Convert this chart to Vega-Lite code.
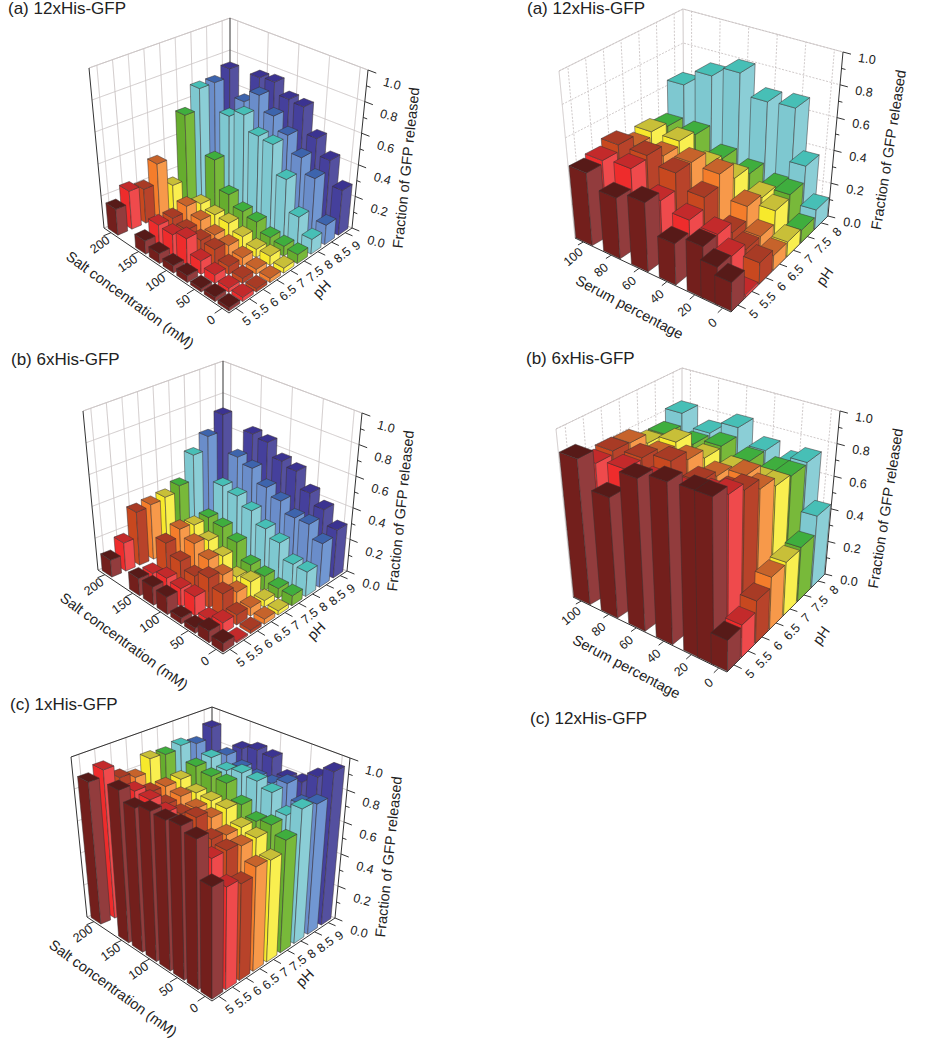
{"$schema":"https://vega.github.io/schema/vega-lite/v6.json","width":926,"height":1050,"padding":0,"autosize":{"type":"fit","contains":"padding"},"background":"white","view":{"stroke":null},
"params":[
{"name":"cam","value":{
"LA":{"f":[229,313],"r":[352,228],"l":[104,228],"b":[230,178],"F":[229,140],"R":[368,70],"L":[89,68],"B":[230,18],"tt":[-81,-59],"top":"g"},
"LB":{"f":[223,654],"r":[347,571],"l":[98,570],"b":[223,520],"F":[223,481],"R":[362,413],"L":[83,411],"B":[223,361],"tt":[-72,-51],"top":"g"},
"LC":{"f":[212,1001],"r":[335,918],"l":[87,917],"b":[212,867],"F":[212,828],"R":[350,758],"L":[71,757],"B":[212,707],"tt":[-61,-52],"top":"e"},
"RA":{"f":[731,312],"r":[828,216],"l":[575,238],"b":[684,179],"F":[731,132],"R":[843,52],"L":[559,71],"B":[683,9],"tt":[-32,-62],"top":"g"},
"RB":{"f":[727,672],"r":[825,574],"l":[573,597],"b":[682,538],"F":[727,490],"R":[840,411],"L":[556,429],"B":[682,368],"tt":[-30,-70],"top":"g"},
"RC":{"f":[0,0],"r":[0,0],"l":[0,0],"b":[0,0],"F":[0,0],"R":[0,0],"L":[530,719],"B":[0,0],"tt":[0,0],"top":"g"}}},
{"name":"lay","value":{
"L":{"u0":4.75,"us":4.5,"v0":-12.5,"vs":225,"du":0.037,"dv":0.037,"g0":1.22,"g1":0.34,"tk":0.06,"side":"e","dash":"s","pL":[11,13,-38],"sL":[-11,12,-35],"zL":[24,14,15],"pT":[32,19,-45],"sT":[-37,30,36],"zT":[47,19,-84]},
"R":{"u0":4.75,"us":3.5,"v0":-6,"vs":112,"du":0.065,"dv":0.053,"g0":1,"g1":0,"tk":0.05,"side":"g","dash":"d","pL":[16,9,-45],"sL":[-10,15,-40],"zL":[24,7,8],"pT":[46,13,-55],"sT":[-24,33,28],"zT":[54,16,-81]}}}
],
"data":{"values":[
{"panel":"LA","kind":"title","text":"(a) 12xHis-GFP"},{"panel":"LB","kind":"title","text":"(b) 6xHis-GFP"},{"panel":"LC","kind":"title","text":"(c) 1xHis-GFP"},{"panel":"RA","kind":"title","text":"(a) 12xHis-GFP"},{"panel":"RB","kind":"title","text":"(b) 6xHis-GFP"},{"panel":"RC","kind":"title","text":"(c) 12xHis-GFP"},
{"panel":"LA","kind":"pHTitle","text":"pH"},{"panel":"LB","kind":"pHTitle","text":"pH"},{"panel":"LC","kind":"pHTitle","text":"pH"},{"panel":"RA","kind":"pHTitle","text":"pH"},{"panel":"RB","kind":"pHTitle","text":"pH"},
{"panel":"LA","kind":"levelTitle","text":"Salt concentration (mM)"},{"panel":"LB","kind":"levelTitle","text":"Salt concentration (mM)"},{"panel":"LC","kind":"levelTitle","text":"Salt concentration (mM)"},{"panel":"RA","kind":"levelTitle","text":"Serum percentage"},{"panel":"RB","kind":"levelTitle","text":"Serum percentage"},
{"panel":"LA","kind":"valueTitle","text":"Fraction of GFP released"},{"panel":"LB","kind":"valueTitle","text":"Fraction of GFP released"},{"panel":"LC","kind":"valueTitle","text":"Fraction of GFP released"},{"panel":"RA","kind":"valueTitle","text":"Fraction of GFP released"},{"panel":"RB","kind":"valueTitle","text":"Fraction of GFP released"},
{"panel":"LA","kind":"frame"},{"panel":"LB","kind":"frame"},{"panel":"LC","kind":"frame"},{"panel":"RA","kind":"frame"},{"panel":"RB","kind":"frame"},
{"panel":"LA","kind":"pH","pH":5},{"panel":"LA","kind":"pH","pH":5.5},{"panel":"LA","kind":"pH","pH":6},{"panel":"LA","kind":"pH","pH":6.5},{"panel":"LA","kind":"pH","pH":7},{"panel":"LA","kind":"pH","pH":7.5},{"panel":"LA","kind":"pH","pH":8},{"panel":"LA","kind":"pH","pH":8.5},{"panel":"LA","kind":"pH","pH":9},
{"panel":"LB","kind":"pH","pH":5},{"panel":"LB","kind":"pH","pH":5.5},{"panel":"LB","kind":"pH","pH":6},{"panel":"LB","kind":"pH","pH":6.5},{"panel":"LB","kind":"pH","pH":7},{"panel":"LB","kind":"pH","pH":7.5},{"panel":"LB","kind":"pH","pH":8},{"panel":"LB","kind":"pH","pH":8.5},{"panel":"LB","kind":"pH","pH":9},
{"panel":"LC","kind":"pH","pH":5},{"panel":"LC","kind":"pH","pH":5.5},{"panel":"LC","kind":"pH","pH":6},{"panel":"LC","kind":"pH","pH":6.5},{"panel":"LC","kind":"pH","pH":7},{"panel":"LC","kind":"pH","pH":7.5},{"panel":"LC","kind":"pH","pH":8},{"panel":"LC","kind":"pH","pH":8.5},{"panel":"LC","kind":"pH","pH":9},
{"panel":"RA","kind":"pH","pH":5},{"panel":"RA","kind":"pH","pH":5.5},{"panel":"RA","kind":"pH","pH":6},{"panel":"RA","kind":"pH","pH":6.5},{"panel":"RA","kind":"pH","pH":7},{"panel":"RA","kind":"pH","pH":7.5},{"panel":"RA","kind":"pH","pH":8},
{"panel":"RB","kind":"pH","pH":5},{"panel":"RB","kind":"pH","pH":5.5},{"panel":"RB","kind":"pH","pH":6},{"panel":"RB","kind":"pH","pH":6.5},{"panel":"RB","kind":"pH","pH":7},{"panel":"RB","kind":"pH","pH":7.5},{"panel":"RB","kind":"pH","pH":8},
{"panel":"LA","kind":"level","level":0},{"panel":"LA","kind":"level","level":50},{"panel":"LA","kind":"level","level":100},{"panel":"LA","kind":"level","level":150},{"panel":"LA","kind":"level","level":200},
{"panel":"LB","kind":"level","level":0},{"panel":"LB","kind":"level","level":50},{"panel":"LB","kind":"level","level":100},{"panel":"LB","kind":"level","level":150},{"panel":"LB","kind":"level","level":200},
{"panel":"LC","kind":"level","level":0},{"panel":"LC","kind":"level","level":50},{"panel":"LC","kind":"level","level":100},{"panel":"LC","kind":"level","level":150},{"panel":"LC","kind":"level","level":200},
{"panel":"RA","kind":"level","level":0},{"panel":"RA","kind":"level","level":20},{"panel":"RA","kind":"level","level":40},{"panel":"RA","kind":"level","level":60},{"panel":"RA","kind":"level","level":80},{"panel":"RA","kind":"level","level":100},
{"panel":"RB","kind":"level","level":0},{"panel":"RB","kind":"level","level":20},{"panel":"RB","kind":"level","level":40},{"panel":"RB","kind":"level","level":60},{"panel":"RB","kind":"level","level":80},{"panel":"RB","kind":"level","level":100},
{"panel":"LA","kind":"value","fraction":0},{"panel":"LA","kind":"value","fraction":0.2},{"panel":"LA","kind":"value","fraction":0.4},{"panel":"LA","kind":"value","fraction":0.6},{"panel":"LA","kind":"value","fraction":0.8},{"panel":"LA","kind":"value","fraction":1},
{"panel":"LB","kind":"value","fraction":0},{"panel":"LB","kind":"value","fraction":0.2},{"panel":"LB","kind":"value","fraction":0.4},{"panel":"LB","kind":"value","fraction":0.6},{"panel":"LB","kind":"value","fraction":0.8},{"panel":"LB","kind":"value","fraction":1},
{"panel":"LC","kind":"value","fraction":0},{"panel":"LC","kind":"value","fraction":0.2},{"panel":"LC","kind":"value","fraction":0.4},{"panel":"LC","kind":"value","fraction":0.6},{"panel":"LC","kind":"value","fraction":0.8},{"panel":"LC","kind":"value","fraction":1},
{"panel":"RA","kind":"value","fraction":0},{"panel":"RA","kind":"value","fraction":0.2},{"panel":"RA","kind":"value","fraction":0.4},{"panel":"RA","kind":"value","fraction":0.6},{"panel":"RA","kind":"value","fraction":0.8},{"panel":"RA","kind":"value","fraction":1},
{"panel":"RB","kind":"value","fraction":0},{"panel":"RB","kind":"value","fraction":0.2},{"panel":"RB","kind":"value","fraction":0.4},{"panel":"RB","kind":"value","fraction":0.6},{"panel":"RB","kind":"value","fraction":0.8},{"panel":"RB","kind":"value","fraction":1},
{"panel":"LA","kind":"minor","fraction":0.1},{"panel":"LA","kind":"minor","fraction":0.3},{"panel":"LA","kind":"minor","fraction":0.5},{"panel":"LA","kind":"minor","fraction":0.7},{"panel":"LA","kind":"minor","fraction":0.9},
{"panel":"LB","kind":"minor","fraction":0.1},{"panel":"LB","kind":"minor","fraction":0.3},{"panel":"LB","kind":"minor","fraction":0.5},{"panel":"LB","kind":"minor","fraction":0.7},{"panel":"LB","kind":"minor","fraction":0.9},
{"panel":"LC","kind":"minor","fraction":0.1},{"panel":"LC","kind":"minor","fraction":0.3},{"panel":"LC","kind":"minor","fraction":0.5},{"panel":"LC","kind":"minor","fraction":0.7},{"panel":"LC","kind":"minor","fraction":0.9},
{"panel":"RA","kind":"minor","fraction":0.1},{"panel":"RA","kind":"minor","fraction":0.3},{"panel":"RA","kind":"minor","fraction":0.5},{"panel":"RA","kind":"minor","fraction":0.7},{"panel":"RA","kind":"minor","fraction":0.9},
{"panel":"RB","kind":"minor","fraction":0.1},{"panel":"RB","kind":"minor","fraction":0.3},{"panel":"RB","kind":"minor","fraction":0.5},{"panel":"RB","kind":"minor","fraction":0.7},{"panel":"RB","kind":"minor","fraction":0.9},

{"panel":"LA","pH":9,"level":200,"fraction":0.74},{"panel":"LA","pH":8.5,"level":200,"fraction":0.69},{"panel":"LA","pH":8,"level":200,"fraction":0.69},{"panel":"LA","pH":7.5,"level":200,"fraction":0.56},{"panel":"LA","pH":7,"level":200,"fraction":0.16},{"panel":"LA","pH":6.5,"level":200,"fraction":0.33},{"panel":"LA","pH":6,"level":200,"fraction":0.21},{"panel":"LA","pH":5.5,"level":200,"fraction":0.235},{"panel":"LA","pH":5,"level":200,"fraction":0.16},
{"panel":"LA","pH":9,"level":150,"fraction":0.76},{"panel":"LA","pH":8.5,"level":150,"fraction":0.65},{"panel":"LA","pH":8,"level":150,"fraction":0.6},{"panel":"LA","pH":7.5,"level":150,"fraction":0.37},{"panel":"LA","pH":7,"level":150,"fraction":0.14},{"panel":"LA","pH":6.5,"level":150,"fraction":0.167},{"panel":"LA","pH":6,"level":150,"fraction":0.135},{"panel":"LA","pH":5.5,"level":150,"fraction":0.135},{"panel":"LA","pH":5,"level":150,"fraction":0.08},
{"panel":"LA","pH":9,"level":125,"fraction":0.77},{"panel":"LA","pH":8.5,"level":125,"fraction":0.73},{"panel":"LA","pH":8,"level":125,"fraction":0.65},{"panel":"LA","pH":7.5,"level":125,"fraction":0.2},{"panel":"LA","pH":7,"level":125,"fraction":0.12},{"panel":"LA","pH":6.5,"level":125,"fraction":0.13},{"panel":"LA","pH":6,"level":125,"fraction":0.115},{"panel":"LA","pH":5.5,"level":125,"fraction":0.13},{"panel":"LA","pH":5,"level":125,"fraction":0.06},
{"panel":"LA","pH":9,"level":100,"fraction":0.7},{"panel":"LA","pH":8.5,"level":100,"fraction":0.64},{"panel":"LA","pH":8,"level":100,"fraction":0.56},{"panel":"LA","pH":7.5,"level":100,"fraction":0.14},{"panel":"LA","pH":7,"level":100,"fraction":0.115},{"panel":"LA","pH":6.5,"level":100,"fraction":0.09},{"panel":"LA","pH":6,"level":100,"fraction":0.104},{"panel":"LA","pH":5.5,"level":100,"fraction":0.16},{"panel":"LA","pH":5,"level":100,"fraction":0.044},
{"panel":"LA","pH":9,"level":75,"fraction":0.69},{"panel":"LA","pH":8.5,"level":75,"fraction":0.56},{"panel":"LA","pH":8,"level":75,"fraction":0.55},{"panel":"LA","pH":7.5,"level":75,"fraction":0.12},{"panel":"LA","pH":7,"level":75,"fraction":0.08},{"panel":"LA","pH":6.5,"level":75,"fraction":0.075},{"panel":"LA","pH":6,"level":75,"fraction":0.1},{"panel":"LA","pH":5.5,"level":75,"fraction":0.08},{"panel":"LA","pH":5,"level":75,"fraction":0.04},
{"panel":"LA","pH":9,"level":50,"fraction":0.53},{"panel":"LA","pH":8.5,"level":50,"fraction":0.46},{"panel":"LA","pH":8,"level":50,"fraction":0.375},{"panel":"LA","pH":7.5,"level":50,"fraction":0.07},{"panel":"LA","pH":7,"level":50,"fraction":0.05},{"panel":"LA","pH":6.5,"level":50,"fraction":0.05},{"panel":"LA","pH":6,"level":50,"fraction":0.05},{"panel":"LA","pH":5.5,"level":50,"fraction":0.05},{"panel":"LA","pH":5,"level":50,"fraction":0.02},
{"panel":"LA","pH":9,"level":25,"fraction":0.43},{"panel":"LA","pH":8.5,"level":25,"fraction":0.37},{"panel":"LA","pH":8,"level":25,"fraction":0.185},{"panel":"LA","pH":7.5,"level":25,"fraction":0.06},{"panel":"LA","pH":7,"level":25,"fraction":0.055},{"panel":"LA","pH":6.5,"level":25,"fraction":0.03},{"panel":"LA","pH":6,"level":25,"fraction":0.03},{"panel":"LA","pH":5.5,"level":25,"fraction":0.025},{"panel":"LA","pH":5,"level":25,"fraction":0.025},
{"panel":"LA","pH":9,"level":0,"fraction":0.28},{"panel":"LA","pH":8.5,"level":0,"fraction":0.12},{"panel":"LA","pH":8,"level":0,"fraction":0.09},{"panel":"LA","pH":7.5,"level":0,"fraction":0.055},{"panel":"LA","pH":7,"level":0,"fraction":0.03},{"panel":"LA","pH":6.5,"level":0,"fraction":0.025},{"panel":"LA","pH":6,"level":0,"fraction":0.02},{"panel":"LA","pH":5.5,"level":0,"fraction":0.025},{"panel":"LA","pH":5,"level":0,"fraction":0.02},

{"panel":"LB","pH":9,"level":200,"fraction":0.72},{"panel":"LB","pH":8.5,"level":200,"fraction":0.62},{"panel":"LB","pH":8,"level":200,"fraction":0.54},{"panel":"LB","pH":7.5,"level":200,"fraction":0.385},{"panel":"LB","pH":7,"level":200,"fraction":0.35},{"panel":"LB","pH":6.5,"level":200,"fraction":0.34},{"panel":"LB","pH":6,"level":200,"fraction":0.33},{"panel":"LB","pH":5.5,"level":200,"fraction":0.175},{"panel":"LB","pH":5,"level":200,"fraction":0.105},
{"panel":"LB","pH":9,"level":150,"fraction":0.675},{"panel":"LB","pH":8.5,"level":150,"fraction":0.57},{"panel":"LB","pH":8,"level":150,"fraction":0.43},{"panel":"LB","pH":7.5,"level":150,"fraction":0.275},{"panel":"LB","pH":7,"level":150,"fraction":0.27},{"panel":"LB","pH":6.5,"level":150,"fraction":0.285},{"panel":"LB","pH":6,"level":150,"fraction":0.24},{"panel":"LB","pH":5.5,"level":150,"fraction":0.095},{"panel":"LB","pH":5,"level":150,"fraction":0.105},
{"panel":"LB","pH":9,"level":125,"fraction":0.66},{"panel":"LB","pH":8.5,"level":125,"fraction":0.54},{"panel":"LB","pH":8,"level":125,"fraction":0.41},{"panel":"LB","pH":7.5,"level":125,"fraction":0.26},{"panel":"LB","pH":7,"level":125,"fraction":0.22},{"panel":"LB","pH":6.5,"level":125,"fraction":0.245},{"panel":"LB","pH":6,"level":125,"fraction":0.18},{"panel":"LB","pH":5.5,"level":125,"fraction":0.12},{"panel":"LB","pH":5,"level":125,"fraction":0.11},
{"panel":"LB","pH":9,"level":100,"fraction":0.58},{"panel":"LB","pH":8.5,"level":100,"fraction":0.46},{"panel":"LB","pH":8,"level":100,"fraction":0.36},{"panel":"LB","pH":7.5,"level":100,"fraction":0.21},{"panel":"LB","pH":7,"level":100,"fraction":0.17},{"panel":"LB","pH":6.5,"level":100,"fraction":0.195},{"panel":"LB","pH":6,"level":100,"fraction":0.14},{"panel":"LB","pH":5.5,"level":100,"fraction":0.11},{"panel":"LB","pH":5,"level":100,"fraction":0.105},
{"panel":"LB","pH":9,"level":75,"fraction":0.555},{"panel":"LB","pH":8.5,"level":75,"fraction":0.415},{"panel":"LB","pH":8,"level":75,"fraction":0.29},{"panel":"LB","pH":7.5,"level":75,"fraction":0.115},{"panel":"LB","pH":7,"level":75,"fraction":0.09},{"panel":"LB","pH":6.5,"level":75,"fraction":0.15},{"panel":"LB","pH":6,"level":75,"fraction":0.18},{"panel":"LB","pH":5.5,"level":75,"fraction":0.115},{"panel":"LB","pH":5,"level":75,"fraction":0.035},
{"panel":"LB","pH":9,"level":50,"fraction":0.455},{"panel":"LB","pH":8.5,"level":50,"fraction":0.35},{"panel":"LB","pH":8,"level":50,"fraction":0.245},{"panel":"LB","pH":7.5,"level":50,"fraction":0.09},{"panel":"LB","pH":7,"level":50,"fraction":0.107},{"panel":"LB","pH":6.5,"level":50,"fraction":0.095},{"panel":"LB","pH":6,"level":50,"fraction":0.135},{"panel":"LB","pH":5.5,"level":50,"fraction":0.03},{"panel":"LB","pH":5,"level":50,"fraction":0.03},
{"panel":"LB","pH":9,"level":25,"fraction":0.39},{"panel":"LB","pH":8.5,"level":25,"fraction":0.35},{"panel":"LB","pH":8,"level":25,"fraction":0.155},{"panel":"LB","pH":7.5,"level":25,"fraction":0.06},{"panel":"LB","pH":7,"level":25,"fraction":0.04},{"panel":"LB","pH":6.5,"level":25,"fraction":0.05},{"panel":"LB","pH":6,"level":25,"fraction":0.06},{"panel":"LB","pH":5.5,"level":25,"fraction":0.065},{"panel":"LB","pH":5,"level":25,"fraction":0.067},
{"panel":"LB","pH":9,"level":0,"fraction":0.3},{"panel":"LB","pH":8.5,"level":0,"fraction":0.27},{"panel":"LB","pH":8,"level":0,"fraction":0.15},{"panel":"LB","pH":7.5,"level":0,"fraction":0.06},{"panel":"LB","pH":7,"level":0,"fraction":0.025},{"panel":"LB","pH":6.5,"level":0,"fraction":0.03},{"panel":"LB","pH":6,"level":0,"fraction":0.02},{"panel":"LB","pH":5.5,"level":0,"fraction":0.01},{"panel":"LB","pH":5,"level":0,"fraction":0.05},

{"panel":"LC","pH":9,"level":200,"fraction":0.93},{"panel":"LC","pH":8.5,"level":200,"fraction":0.865},{"panel":"LC","pH":8,"level":200,"fraction":0.89},{"panel":"LC","pH":7.5,"level":200,"fraction":0.87},{"panel":"LC","pH":7,"level":200,"fraction":0.88},{"panel":"LC","pH":6.5,"level":200,"fraction":0.8},{"panel":"LC","pH":6,"level":200,"fraction":0.835},{"panel":"LC","pH":5.5,"level":200,"fraction":0.92},{"panel":"LC","pH":5,"level":200,"fraction":0.88},
{"panel":"LC","pH":9,"level":150,"fraction":0.87},{"panel":"LC","pH":8.5,"level":150,"fraction":0.87},{"panel":"LC","pH":8,"level":150,"fraction":0.895},{"panel":"LC","pH":7.5,"level":150,"fraction":0.88},{"panel":"LC","pH":7,"level":150,"fraction":0.84},{"panel":"LC","pH":6.5,"level":150,"fraction":0.835},{"panel":"LC","pH":6,"level":150,"fraction":0.84},{"panel":"LC","pH":5.5,"level":150,"fraction":0.885},{"panel":"LC","pH":5,"level":150,"fraction":0.93},
{"panel":"LC","pH":9,"level":125,"fraction":0.9},{"panel":"LC","pH":8.5,"level":125,"fraction":0.83},{"panel":"LC","pH":8,"level":125,"fraction":0.855},{"panel":"LC","pH":7.5,"level":125,"fraction":0.86},{"panel":"LC","pH":7,"level":125,"fraction":0.8},{"panel":"LC","pH":6.5,"level":125,"fraction":0.82},{"panel":"LC","pH":6,"level":125,"fraction":0.81},{"panel":"LC","pH":5.5,"level":125,"fraction":0.88},{"panel":"LC","pH":5,"level":125,"fraction":0.87},
{"panel":"LC","pH":9,"level":100,"fraction":0.89},{"panel":"LC","pH":8.5,"level":100,"fraction":0.81},{"panel":"LC","pH":8,"level":100,"fraction":0.88},{"panel":"LC","pH":7.5,"level":100,"fraction":0.86},{"panel":"LC","pH":7,"level":100,"fraction":0.795},{"panel":"LC","pH":6.5,"level":100,"fraction":0.79},{"panel":"LC","pH":6,"level":100,"fraction":0.8},{"panel":"LC","pH":5.5,"level":100,"fraction":0.85},{"panel":"LC","pH":5,"level":100,"fraction":0.9},
{"panel":"LC","pH":9,"level":75,"fraction":0.8},{"panel":"LC","pH":8.5,"level":75,"fraction":0.81},{"panel":"LC","pH":8,"level":75,"fraction":0.87},{"panel":"LC","pH":7.5,"level":75,"fraction":0.77},{"panel":"LC","pH":7,"level":75,"fraction":0.79},{"panel":"LC","pH":6.5,"level":75,"fraction":0.78},{"panel":"LC","pH":6,"level":75,"fraction":0.825},{"panel":"LC","pH":5.5,"level":75,"fraction":0.8},{"panel":"LC","pH":5,"level":75,"fraction":0.895},
{"panel":"LC","pH":9,"level":50,"fraction":0.81},{"panel":"LC","pH":8.5,"level":50,"fraction":0.85},{"panel":"LC","pH":8,"level":50,"fraction":0.84},{"panel":"LC","pH":7.5,"level":50,"fraction":0.71},{"panel":"LC","pH":7,"level":50,"fraction":0.72},{"panel":"LC","pH":6.5,"level":50,"fraction":0.72},{"panel":"LC","pH":6,"level":50,"fraction":0.74},{"panel":"LC","pH":5.5,"level":50,"fraction":0.75},{"panel":"LC","pH":5,"level":50,"fraction":0.91},
{"panel":"LC","pH":9,"level":25,"fraction":0.88},{"panel":"LC","pH":8.5,"level":25,"fraction":0.76},{"panel":"LC","pH":8,"level":25,"fraction":0.74},{"panel":"LC","pH":7.5,"level":25,"fraction":0.73},{"panel":"LC","pH":7,"level":25,"fraction":0.7},{"panel":"LC","pH":6.5,"level":25,"fraction":0.7},{"panel":"LC","pH":6,"level":25,"fraction":0.72},{"panel":"LC","pH":5.5,"level":25,"fraction":0.72},{"panel":"LC","pH":5,"level":25,"fraction":0.88},
{"panel":"LC","pH":9,"level":0,"fraction":0.95},{"panel":"LC","pH":8.5,"level":0,"fraction":0.8},{"panel":"LC","pH":8,"level":0,"fraction":0.82},{"panel":"LC","pH":7.5,"level":0,"fraction":0.68},{"panel":"LC","pH":7,"level":0,"fraction":0.61},{"panel":"LC","pH":6.5,"level":0,"fraction":0.62},{"panel":"LC","pH":6,"level":0,"fraction":0.57},{"panel":"LC","pH":5.5,"level":0,"fraction":0.6},{"panel":"LC","pH":5,"level":0,"fraction":0.65},

{"panel":"RA","pH":8,"level":100,"fraction":0.63},{"panel":"RA","pH":7.5,"level":100,"fraction":0.44},{"panel":"RA","pH":7,"level":100,"fraction":0.46},{"panel":"RA","pH":6.5,"level":100,"fraction":0.43},{"panel":"RA","pH":6,"level":100,"fraction":0.49},{"panel":"RA","pH":5.5,"level":100,"fraction":0.45},{"panel":"RA","pH":5,"level":100,"fraction":0.43},
{"panel":"RA","pH":8,"level":80,"fraction":0.73},{"panel":"RA","pH":7.5,"level":80,"fraction":0.44},{"panel":"RA","pH":7,"level":80,"fraction":0.46},{"panel":"RA","pH":6.5,"level":80,"fraction":0.43},{"panel":"RA","pH":6,"level":80,"fraction":0.49},{"panel":"RA","pH":5.5,"level":80,"fraction":0.47},{"panel":"RA","pH":5,"level":80,"fraction":0.355},
{"panel":"RA","pH":8,"level":60,"fraction":0.795},{"panel":"RA","pH":7.5,"level":60,"fraction":0.35},{"panel":"RA","pH":7,"level":60,"fraction":0.37},{"panel":"RA","pH":6.5,"level":60,"fraction":0.45},{"panel":"RA","pH":6,"level":60,"fraction":0.45},{"panel":"RA","pH":5.5,"level":60,"fraction":0.35},{"panel":"RA","pH":5,"level":60,"fraction":0.4},
{"panel":"RA","pH":8,"level":40,"fraction":0.67},{"panel":"RA","pH":7.5,"level":40,"fraction":0.31},{"panel":"RA","pH":7,"level":40,"fraction":0.35},{"panel":"RA","pH":6.5,"level":40,"fraction":0.44},{"panel":"RA","pH":6,"level":40,"fraction":0.37},{"panel":"RA","pH":5.5,"level":40,"fraction":0.305},{"panel":"RA","pH":5,"level":40,"fraction":0.235},
{"panel":"RA","pH":8,"level":20,"fraction":0.68},{"panel":"RA","pH":7.5,"level":20,"fraction":0.27},{"panel":"RA","pH":7,"level":20,"fraction":0.29},{"panel":"RA","pH":6.5,"level":20,"fraction":0.31},{"panel":"RA","pH":6,"level":20,"fraction":0.23},{"panel":"RA","pH":5.5,"level":20,"fraction":0.29},{"panel":"RA","pH":5,"level":20,"fraction":0.29},
{"panel":"RA","pH":8,"level":10,"fraction":0.355},{"panel":"RA","pH":7.5,"level":10,"fraction":0.26},{"panel":"RA","pH":7,"level":10,"fraction":0.24},{"panel":"RA","pH":6.5,"level":10,"fraction":0.165},{"panel":"RA","pH":6,"level":10,"fraction":0.165},{"panel":"RA","pH":5.5,"level":10,"fraction":0.2},{"panel":"RA","pH":5,"level":10,"fraction":0.21},
{"panel":"RA","pH":8,"level":0,"fraction":0.115},{"panel":"RA","pH":7.5,"level":0,"fraction":0.075},{"panel":"RA","pH":7,"level":0,"fraction":0.085},{"panel":"RA","pH":6.5,"level":0,"fraction":0.085},{"panel":"RA","pH":6,"level":0,"fraction":0.12},{"panel":"RA","pH":5.5,"level":0,"fraction":0.016},{"panel":"RA","pH":5,"level":0,"fraction":0.16},

{"panel":"RB","pH":8,"level":100,"fraction":0.81},{"panel":"RB","pH":7.5,"level":100,"fraction":0.74},{"panel":"RB","pH":7,"level":100,"fraction":0.74},{"panel":"RB","pH":6.5,"level":100,"fraction":0.795},{"panel":"RB","pH":6,"level":100,"fraction":0.8},{"panel":"RB","pH":5.5,"level":100,"fraction":0.78},{"panel":"RB","pH":5,"level":100,"fraction":0.86},
{"panel":"RB","pH":8,"level":80,"fraction":0.74},{"panel":"RB","pH":7.5,"level":80,"fraction":0.73},{"panel":"RB","pH":7,"level":80,"fraction":0.8},{"panel":"RB","pH":6.5,"level":80,"fraction":0.78},{"panel":"RB","pH":6,"level":80,"fraction":0.82},{"panel":"RB","pH":5.5,"level":80,"fraction":0.81},{"panel":"RB","pH":5,"level":80,"fraction":0.7},
{"panel":"RB","pH":8,"level":60,"fraction":0.82},{"panel":"RB","pH":7.5,"level":60,"fraction":0.77},{"panel":"RB","pH":7,"level":60,"fraction":0.76},{"panel":"RB","pH":6.5,"level":60,"fraction":0.81},{"panel":"RB","pH":6,"level":60,"fraction":0.86},{"panel":"RB","pH":5.5,"level":60,"fraction":0.8},{"panel":"RB","pH":5,"level":60,"fraction":0.876},
{"panel":"RB","pH":8,"level":40,"fraction":0.73},{"panel":"RB","pH":7.5,"level":40,"fraction":0.73},{"panel":"RB","pH":7,"level":40,"fraction":0.74},{"panel":"RB","pH":6.5,"level":40,"fraction":0.77},{"panel":"RB","pH":6,"level":40,"fraction":0.8},{"panel":"RB","pH":5.5,"level":40,"fraction":0.8},{"panel":"RB","pH":5,"level":40,"fraction":0.92},
{"panel":"RB","pH":8,"level":20,"fraction":0.69},{"panel":"RB","pH":7.5,"level":20,"fraction":0.72},{"panel":"RB","pH":7,"level":20,"fraction":0.73},{"panel":"RB","pH":6.5,"level":20,"fraction":0.83},{"panel":"RB","pH":6,"level":20,"fraction":0.8},{"panel":"RB","pH":5.5,"level":20,"fraction":0.85},{"panel":"RB","pH":5,"level":20,"fraction":0.93},
{"panel":"RB","pH":8,"level":10,"fraction":0.73},{"panel":"RB","pH":7.5,"level":10,"fraction":0.72},{"panel":"RB","pH":7,"level":10,"fraction":0.73},{"panel":"RB","pH":6.5,"level":10,"fraction":0.78},{"panel":"RB","pH":6,"level":10,"fraction":0.84},{"panel":"RB","pH":5.5,"level":10,"fraction":0.88},{"panel":"RB","pH":5,"level":10,"fraction":0.93},
{"panel":"RB","pH":8,"level":0,"fraction":0.43},{"panel":"RB","pH":7.5,"level":0,"fraction":0.32},{"panel":"RB","pH":7,"level":0,"fraction":0.31},{"panel":"RB","pH":6.5,"level":0,"fraction":0.3},{"panel":"RB","pH":6,"level":0,"fraction":0.24},{"panel":"RB","pH":5.5,"level":0,"fraction":0.18},{"panel":"RB","pH":5,"level":0,"fraction":0.17}
]},
"transform":[
{"calculate":"cam[datum.panel]","as":"c"},
{"calculate":"lay[substring(datum.panel,0,1)]","as":"o"},
{"calculate":"(datum.pH-datum.o.u0)/datum.o.us","as":"uc"},
{"calculate":"(datum.level-datum.o.v0)/datum.o.vs","as":"vc"},
{"calculate":"datum.o.g0-datum.o.g1*(datum.uc+datum.vc)/2","as":"gw"},
{"calculate":"datum.uc-datum.o.du*datum.gw","as":"A"},
{"calculate":"datum.uc+datum.o.du*datum.gw","as":"B"},
{"calculate":"datum.vc-datum.o.dv*datum.gw","as":"C"},
{"calculate":"datum.vc+datum.o.dv*datum.gw","as":"D"},
{"calculate":"datum.fraction","as":"H"},
{"calculate":"datum.kind=='pH'?[[datum.uc,1,0,'g',0],[datum.uc,1,1,'g',0],[datum.uc,0,0,'t',0],[datum.uc,-datum.o.tk,0,'t',0],[datum.uc,0,0,'l',0,datum.o.pL[0],datum.o.pL[1],datum.o.pL[2],12.5]]:datum.kind=='level'?[[1,datum.vc,0,'g',0],[1,datum.vc,1,'g',0],[0,datum.vc,0,'t',0],[-datum.o.tk,datum.vc,0,'t',0],[0,datum.vc,0,'l',0,datum.o.sL[0],datum.o.sL[1],datum.o.sL[2],12.5]]:datum.kind=='value'?[[0,1,datum.H,'g',0],[1,1,datum.H,'g',0],[1,0,datum.H,'g',0],[1,0,datum.H,'t',0],[1,-datum.o.tk,datum.H,'t',0],[1,0,datum.H,'l',0,datum.o.zL[0],datum.o.zL[1],datum.o.zL[2],12.5]]:datum.kind=='minor'?[[1,0,datum.H,'t',0],[1,-datum.o.tk/2,datum.H,'t',0]]:datum.kind=='title'?[[0,1,1,'T',0,datum.c.tt[0],datum.c.tt[1],0,17]]:datum.kind=='pHTitle'?[[0.5,0,0,'l',0,datum.o.pT[0],datum.o.pT[1],datum.o.pT[2],14.5]]:datum.kind=='levelTitle'?[[0,0.5,0,'l',0,datum.o.sT[0],datum.o.sT[1],datum.o.sT[2],14.5]]:datum.kind=='valueTitle'?[[1,0,0.5,'l',0,datum.o.zT[0],datum.o.zT[1],datum.o.zT[2],14.5]]:datum.kind=='frame'?[[0,1,0,'g',6],[1,1,0,'g',6],[1,0,0,'g',6],[0,1,1,datum.c.top,5],[1,1,1,datum.c.top,5],[1,0,1,datum.c.top,5],[0,1,0,datum.o.side,2],[0,1,1,datum.o.side,2],[1,1,0,datum.o.side,4],[1,1,1,datum.o.side,4],[0,1,0,'e',1],[0,0,0,'e',1],[1,0,0,'e',1],[1,0,0,'e',3],[1,0,1,'e',3]]:[[datum.A,datum.C,0,'b',0],[datum.A,datum.C,datum.H,'b',0],[datum.A,datum.D,datum.H,'b',0],[datum.A,datum.D,0,'b',0],[datum.A,datum.C,0,'b',1],[datum.A,datum.C,datum.H,'b',1],[datum.B,datum.C,datum.H,'b',1],[datum.B,datum.C,0,'b',1],[datum.A,datum.C,datum.H,'b',2],[datum.B,datum.C,datum.H,'b',2],[datum.B,datum.D,datum.H,'b',2],[datum.A,datum.D,datum.H,'b',2]]","as":"pts"},
{"flatten":["pts"],"as":["pt"]},
{"calculate":"datum.pt[0]","as":"u"},
{"calculate":"datum.pt[1]","as":"v"},
{"calculate":"datum.pt[2]","as":"w"},
{"calculate":"datum.pt[3]","as":"part"},
{"calculate":"(1-datum.u)*(1-datum.v)*datum.c.f[0]+datum.u*(1-datum.v)*datum.c.r[0]+(1-datum.u)*datum.v*datum.c.l[0]+datum.u*datum.v*datum.c.b[0]","as":"fx"},
{"calculate":"(1-datum.u)*(1-datum.v)*datum.c.f[1]+datum.u*(1-datum.v)*datum.c.r[1]+(1-datum.u)*datum.v*datum.c.l[1]+datum.u*datum.v*datum.c.b[1]","as":"fy"},
{"calculate":"(1-datum.u)*(1-datum.v)*datum.c.F[0]+datum.u*(1-datum.v)*datum.c.R[0]+(1-datum.u)*datum.v*datum.c.L[0]+datum.u*datum.v*datum.c.B[0]","as":"tx"},
{"calculate":"(1-datum.u)*(1-datum.v)*datum.c.F[1]+datum.u*(1-datum.v)*datum.c.R[1]+(1-datum.u)*datum.v*datum.c.L[1]+datum.u*datum.v*datum.c.B[1]","as":"ty"},
{"calculate":"datum.fx+(datum.tx-datum.fx)*datum.w+(datum.pt[5]||0)","as":"px"},
{"calculate":"datum.fy+(datum.ty-datum.fy)*datum.w+(datum.pt[6]||0)","as":"py"},
{"calculate":"datum.panel+'|'+datum.kind+'|'+datum.pH+'|'+datum.level+'|'+datum.fraction+'|'+datum.part+'|'+datum.pt[4]","as":"grp"},
{"calculate":"datum.pH+'-'+datum.pt[4]","as":"shade"},
{"calculate":"datum.kind=='frame'?'s':datum.o.dash","as":"dash"},
{"calculate":"datum.pt[7]","as":"ang"},
{"calculate":"datum.pt[8]","as":"fs"},
{"calculate":"datum.kind=='pH'?''+datum.pH:datum.kind=='level'?''+datum.level:datum.kind=='value'?format(datum.fraction,'.1f'):datum.text","as":"lab"}
],
"encoding":{
"x":{"field":"px","type":"quantitative","axis":null,"scale":{"domain":[0,926],"nice":false,"zero":false}},
"y":{"field":"py","type":"quantitative","axis":null,"scale":{"domain":[1050,0],"nice":false,"zero":false}}
},
"layer":[
{"transform":[{"filter":"datum.part=='g'"}],"mark":{"type":"line","stroke":"#c9c3c3","strokeWidth":0.9},"encoding":{"detail":{"field":"grp"},"order":{"value":null},"strokeDash":{"field":"dash","type":"nominal","legend":null,"scale":{"domain":["s","d"],"range":[[1,0],[2,1.5]]}}}},
{"transform":[{"filter":"datum.part=='e'||datum.part=='t'"}],"mark":{"type":"line","stroke":"#333333","strokeWidth":1},"encoding":{"detail":{"field":"grp"},"order":{"value":null}}},
{"transform":[{"filter":"datum.part=='b'"}],"mark":{"type":"line","interpolate":"linear-closed","stroke":"#3a3030","strokeWidth":0.5},"encoding":{"detail":{"field":"grp"},"order":{"value":null},"fill":{"field":"shade","type":"nominal","legend":null,"scale":{"domain":["5-0","5-1","5-2","5.5-0","5.5-1","5.5-2","6-0","6-1","6-2","6.5-0","6.5-1","6.5-2","7-0","7-1","7-2","7.5-0","7.5-1","7.5-2","8-0","8-1","8-2","8.5-0","8.5-1","8.5-2","9-0","9-1","9-2"],"range":["#731f1c","#923c3d","#571a18","#ee2c2c","#ef4a4c","#c32a2b","#c8481f","#b8432a","#a83b25","#f47d2b","#f7994a","#c6632b","#f7e92c","#f9ef4f","#c8bf38","#66ad2e","#78b93a","#3fae3e","#7ec8d0","#8bced6","#47bfb6","#6a8dca","#7197d2","#3d64ad","#45409c","#54509f","#3b3391"]}}}},
{"transform":[{"filter":"datum.part=='l'"}],"mark":{"type":"text","font":"Liberation Sans","color":"#222222","align":"center","baseline":"middle"},"encoding":{"text":{"field":"lab","type":"nominal"},"angle":{"field":"ang","type":"quantitative","scale":null},"size":{"field":"fs","type":"quantitative","scale":null}}},
{"transform":[{"filter":"datum.part=='T'"}],"mark":{"type":"text","font":"Liberation Sans","color":"#222222","align":"left","baseline":"middle","fontSize":17},"encoding":{"text":{"field":"lab","type":"nominal"}}}
]}
